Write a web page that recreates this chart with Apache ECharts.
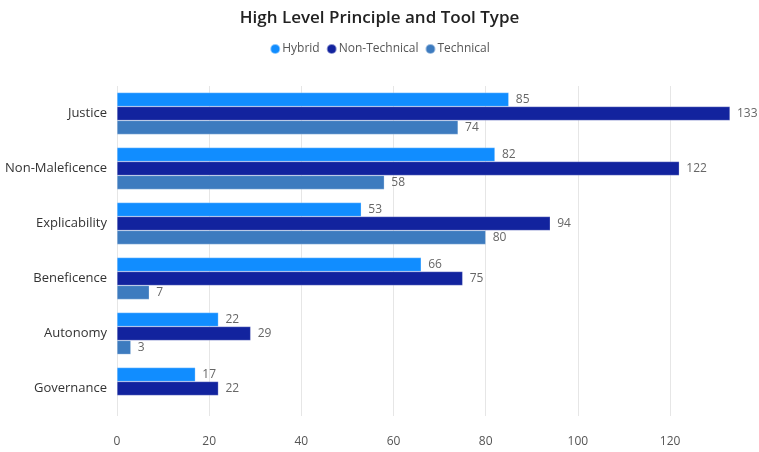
<!DOCTYPE html>
<html>
<head>
<meta charset="utf-8">
<script src="https://cdn.jsdelivr.net/npm/echarts@6/dist/echarts.min.js"></script>
<style>
html, body { margin: 0; padding: 0; background: #fff; }
#chart { width: 759px; height: 452px; }
</style>
</head>
<body>
<div id="chart"></div>
<script>
var principles = ['Justice', 'Non-Maleficence', 'Explicability', 'Beneficence', 'Autonomy', 'Governance'];
var hybrid = [85, 82, 53, 66, 22, 17];
var nonTechnical = [133, 122, 94, 75, 29, 22];
var technical = [74, 58, 80, 7, 3, null];
var xTicks = [0, 20, 40, 60, 80, 100, 120];

var font = '"Open Sans", "Noto Sans", sans-serif';

function bar(name, data, color) {
    return {
        name: name,
        type: 'bar',
        data: data,
        barGap: '0%',
        barCategoryGap: '24%',
        itemStyle: { color: color, borderColor: 'rgba(255,255,255,0.5)', borderWidth: 0.5 },
        label: {
            show: true,
            position: 'right',
            distance: 7,
            color: '#666',
            fontFamily: font,
            fontSize: 12
        }
    };
}

// grey lines for the real ticks, none for the line at the data max
var gridColors = xTicks.map(function () { return '#e6e6e6'; }).concat(['rgba(0,0,0,0)']);

var chart = echarts.init(document.getElementById('chart'));
chart.setOption({
    animation: false,
    title: {
        text: 'High Level Principle and Tool Type',
        left: 'center',
        top: 5,
        textStyle: { fontFamily: font, fontSize: 17, fontWeight: 600, color: '#222' }
    },
    legend: {
        top: 38,
        left: 'center',
        icon: 'circle',
        itemWidth: 10,
        itemHeight: 10,
        itemGap: 6,
        textStyle: { fontFamily: font, fontSize: 12, color: '#555', padding: [0, 0, 0, -3] },
        data: ['Hybrid', 'Non-Technical', 'Technical']
    },
    grid: { left: 117, right: 29, top: 86, bottom: 36 },
    xAxis: {
        type: 'value',
        min: 0,
        max: 133,
        interval: 20,
        axisLine: { show: false },
        axisTick: { show: false },
        axisLabel: {
            color: '#555',
            fontFamily: font,
            fontSize: 12,
            margin: 20,
            formatter: function (v) { return xTicks.indexOf(v) >= 0 ? v : ''; }
        },
        splitLine: { lineStyle: { color: gridColors } }
    },
    yAxis: {
        type: 'category',
        inverse: true,
        data: principles,
        axisLine: { show: false },
        axisTick: { show: false },
        axisLabel: { color: '#333', fontFamily: font, fontSize: 13, margin: 10 }
    },
    series: [
        bar('Hybrid', hybrid, '#118DFF'),
        bar('Non-Technical', nonTechnical, '#12239E'),
        bar('Technical', technical, '#3D7BBF')
    ]
});
</script>
</body>
</html>
